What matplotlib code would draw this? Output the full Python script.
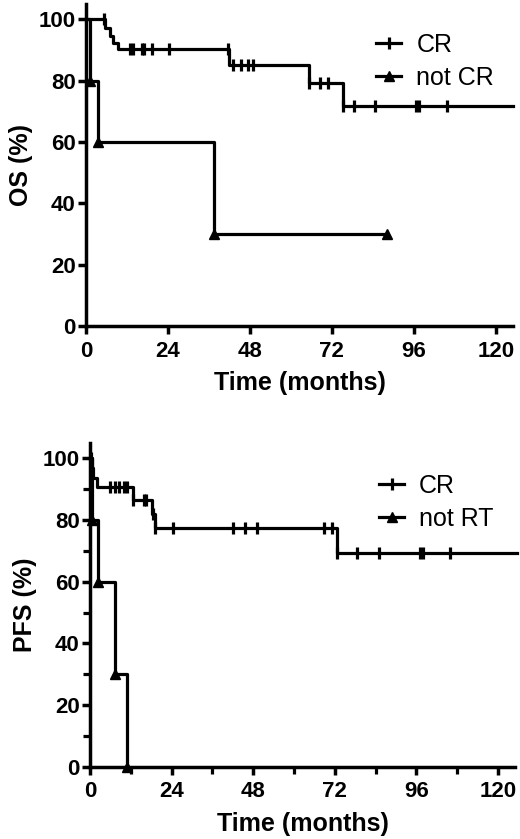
import numpy as np
import matplotlib
matplotlib.use("Agg")
import matplotlib.pyplot as plt
from matplotlib.lines import Line2D
from matplotlib.ticker import MultipleLocator

plt.rcParams['font.family'] = ['Liberation Sans', 'DejaVu Sans']

# ---- OS data (months, %) ----
os_cr_t = [0, 5.6, 7.0, 7.9, 9.4, 42.0, 65.3, 75.3]
os_cr_s = [100, 97.3, 94.6, 92.3, 90.2, 85.0, 79.1, 71.7]
os_cr_end = 125
os_cr_cens = [5.4, 12.9, 13.8, 16.3, 17.0, 19.2, 24.4, 41.6, 43.0, 45.4, 47.4, 49.0,
              65.3, 68.5, 70.9, 75.3, 78.4, 84.6, 96.6, 97.6, 105.6]

os_ncr_t = [0, 1.2, 3.4, 37.5]
os_ncr_s = [100, 80, 60, 30]
os_ncr_end = 88

# ---- PFS data ----
pfs_cr_t = [0, 0.5, 1.0, 2.0, 12.7, 18.1, 19.1, 72.7]
pfs_cr_s = [100, 96.8, 93.6, 90.6, 86.5, 81.9, 77.3, 69.2]
pfs_cr_end = 125.5
pfs_cr_cens = [0.3, 5.9, 7.4, 8.6, 10.0, 10.8, 12.7, 16.0, 16.6, 18.6, 19.1, 24.3,
               42.2, 45.7, 49.1, 68.8, 71.1, 72.7, 78.6, 85.1, 97.0, 97.9, 105.9]

pfs_nrt_t = [0, 0.5, 2.4, 7.4, 11.0]
pfs_nrt_s = [100, 80, 60, 30, 0]
pfs_nrt_end = 11.0

LW = 2.3


def step_value(times, surv, t):
    idx = np.searchsorted(times, t, side='right') - 1
    return surv[idx]


def draw_km(ax, times, surv, end, cens=None, tri=False):
    xs = list(times) + [end]
    ys = list(surv) + [surv[-1]]
    ax.step(xs, ys, where='post', color='black', lw=LW, clip_on=False, zorder=3)
    if cens is not None:
        cy = [step_value(times, surv, c) for c in cens]
        ax.plot(cens, cy, ls='none', marker='|', ms=9, mew=2.3, color='black',
                clip_on=False, zorder=4)
    if tri:
        tx = list(times[1:]) + ([end] if end != times[-1] else [])
        ty = list(surv[1:]) + ([surv[-1]] if end != times[-1] else [])
        ax.plot(tx, ty, ls='none', marker='^', ms=7, color='black',
                clip_on=False, zorder=4)


def style_axis(ax, ylabel, minor):
    for s in ['top', 'right']:
        ax.spines[s].set_visible(False)
    for s in ['left', 'bottom']:
        ax.spines[s].set_linewidth(2.5)
    ax.set_xlim(0, 125)
    ax.set_ylim(0, 105)
    ax.set_xticks([0, 24, 48, 72, 96, 120])
    ax.set_yticks([0, 20, 40, 60, 80, 100])
    if minor:
        ax.xaxis.set_minor_locator(MultipleLocator(12))
        ax.yaxis.set_minor_locator(MultipleLocator(10))
        ax.tick_params(which='minor', length=5, width=2.3, direction='out')
    ax.tick_params(which='major', length=5.5, width=2.5, direction='out',
                   labelsize=16, pad=2)
    ax.tick_params(axis='x', which='major', pad=5)
    for lab in ax.get_xticklabels() + ax.get_yticklabels():
        lab.set_fontweight('bold')
    ax.set_xlabel('Time (months)', fontsize=18, fontweight='bold', labelpad=7)
    ax.set_ylabel(ylabel, fontsize=18, fontweight='bold', labelpad=4)


def add_legend(ax, labels, anchor):
    handles = [
        Line2D([], [], color='black', lw=LW, marker='|', ms=9, mew=2.3),
        Line2D([], [], color='black', lw=LW, marker='^', ms=7),
    ]
    ax.legend(handles, labels, loc='upper left', bbox_to_anchor=anchor,
              frameon=False, fontsize=18, handlelength=1.0, handletextpad=0.6,
              labelspacing=0.35, borderpad=0, borderaxespad=0)


fig = plt.figure(figsize=(5.2, 8.39), dpi=100)
ax1 = fig.add_axes([0.1654, 0.6114, 0.821, 0.3838])
ax2 = fig.add_axes([0.1731, 0.0862, 0.8173, 0.3857])

draw_km(ax1, os_cr_t, os_cr_s, os_cr_end, cens=os_cr_cens)
draw_km(ax1, os_ncr_t, os_ncr_s, os_ncr_end, tri=True)
style_axis(ax1, 'OS (%)', minor=False)
add_legend(ax1, ['CR', 'not CR'], (0.68, 0.91))

draw_km(ax2, pfs_cr_t, pfs_cr_s, pfs_cr_end, cens=pfs_cr_cens)
draw_km(ax2, pfs_nrt_t, pfs_nrt_s, pfs_nrt_end, tri=True)
style_axis(ax2, 'PFS (%)', minor=True)
add_legend(ax2, ['CR', 'not RT'], (0.68, 0.905))

fig.savefig('out.png', dpi=100)
